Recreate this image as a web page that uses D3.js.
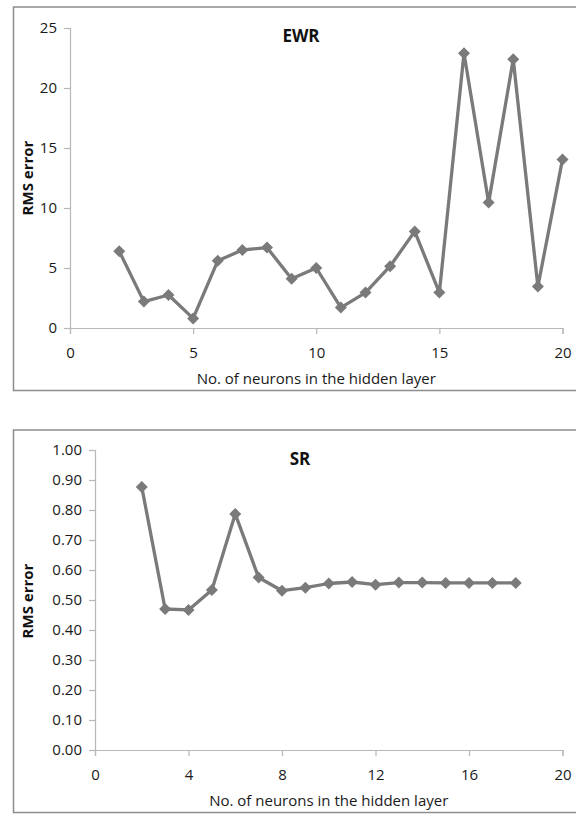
<!DOCTYPE html>
<html>
<head>
<meta charset="utf-8">
<script src="https://cdn.jsdelivr.net/npm/d3@7"></script>
<style>
  body { margin: 0; background: #fff; }
  svg { display: block; font-family: "Open Sans", sans-serif; }
</style>
</head>
<body>
<svg id="chart" width="576" height="814"></svg>
<script>
// neurons in the hidden layer
var ewrNeurons = [2, 3, 4, 5, 6, 7, 8, 9, 10, 11, 12, 13, 14, 15, 16, 17, 18, 19, 20];
var ewrError = [6.4, 2.2, 2.75, 0.8, 5.6, 6.5, 6.7, 4.1, 5.0, 1.7, 2.95, 5.15, 8.05, 2.95, 22.9, 10.45, 22.4, 3.45, 14.05];
var ewrYTicks = [0, 5, 10, 15, 20, 25];
var ewrXTicks = [0, 5, 10, 15, 20];

var srNeurons = [2, 3, 4, 5, 6, 7, 8, 9, 10, 11, 12, 13, 14, 15, 16, 17, 18];
var srError = [0.877, 0.47, 0.467, 0.533, 0.787, 0.575, 0.531, 0.541, 0.555, 0.56, 0.551, 0.558, 0.558, 0.557, 0.557, 0.557, 0.557];
var srYTicks = [0, 0.1, 0.2, 0.3, 0.4, 0.5, 0.6, 0.7, 0.8, 0.9, 1.0];
var srXTicks = [0, 4, 8, 12, 16, 20];

var svg = d3.select("#chart");

function panel(opt) {
  // outer frame (runs off the right edge like the scan)
  svg.append("rect")
    .attr("x", 13.5).attr("y", opt.top)
    .attr("width", 600).attr("height", opt.bottom - opt.top)
    .attr("fill", "none").attr("stroke", "#8c8c8c").attr("stroke-width", 1.5);

  var x = d3.scaleLinear().domain([0, 20]).range([opt.x0, opt.x1]);
  var y = d3.scaleLinear().domain([0, opt.ymax]).range([opt.y0, opt.y1]);

  var g = svg.append("g");

  var yAxis = g.append("g")
    .attr("transform", "translate(" + opt.x0 + ",0)")
    .call(d3.axisLeft(y).tickValues(opt.yTicks).tickFormat(opt.yFmt).tickSize(6).tickPadding(7));
  var xAxis = g.append("g")
    .attr("transform", "translate(0," + opt.y0 + ")")
    .call(d3.axisBottom(x).tickValues(opt.xTicks).tickSize(6).tickPadding(13));

  [yAxis, xAxis].forEach(function(a) {
    a.select(".domain").attr("stroke", "#b8b8b8").attr("stroke-width", 1.2);
    a.selectAll(".tick line").attr("stroke", "#b8b8b8").attr("stroke-width", 1.2);
    a.selectAll("text").attr("fill", "#1a1a1a").style("font-size", "15px")
      .style("font-family", "'Open Sans', sans-serif");
  });

  var line = d3.line()
    .x(function(d) { return x(d[0]); })
    .y(function(d) { return y(d[1]); });
  var pts = d3.zip(opt.xs, opt.ys);

  g.append("path")
    .datum(pts)
    .attr("d", line)
    .attr("fill", "none")
    .attr("stroke", "#7a7a7a")
    .attr("stroke-width", 3.3)
    .attr("stroke-linejoin", "round");

  g.selectAll(".mark")
    .data(pts)
    .enter().append("path")
    .attr("class", "mark")
    .attr("d", d3.symbol(d3.symbolSquare, 72)())
    .attr("transform", function(d) { return "translate(" + x(d[0]) + "," + y(d[1]) + ") rotate(45)"; })
    .attr("fill", "#7a7a7a");

  // titles
  g.append("text")
    .attr("x", opt.titleX).attr("y", opt.titleY)
    .attr("text-anchor", "middle")
    .style("font-size", "17px").style("font-weight", "bold")
    .attr("fill", "#111")
    .text(opt.title);

  g.append("text")
    .attr("transform", "translate(33," + opt.ylabY + ") rotate(-90)")
    .attr("text-anchor", "middle")
    .style("font-size", "15px").style("font-weight", "bold")
    .attr("fill", "#111")
    .text("RMS error");

  g.append("text")
    .attr("x", (opt.x0 + opt.x1) / 2).attr("y", opt.xlabY)
    .attr("text-anchor", "middle")
    .style("font-size", "15px")
    .attr("fill", "#1a1a1a")
    .text("No. of neurons in the hidden layer");
}

panel({
  top: 7, bottom: 390.5,
  x0: 70, x1: 562.5, y0: 328, y1: 28, ymax: 25,
  xs: ewrNeurons, ys: ewrError,
  yTicks: ewrYTicks, xTicks: ewrXTicks, yFmt: d3.format("d"),
  title: "EWR", titleX: 301, titleY: 42,
  ylabY: 178, xlabY: 384
});

panel({
  top: 430, bottom: 812.5,
  x0: 95, x1: 562.5, y0: 750, y1: 450, ymax: 1.0,
  xs: srNeurons, ys: srError,
  yTicks: srYTicks, xTicks: srXTicks, yFmt: d3.format(".2f"),
  title: "SR", titleX: 300, titleY: 465,
  ylabY: 601, xlabY: 806
});
</script>
</body>
</html>
